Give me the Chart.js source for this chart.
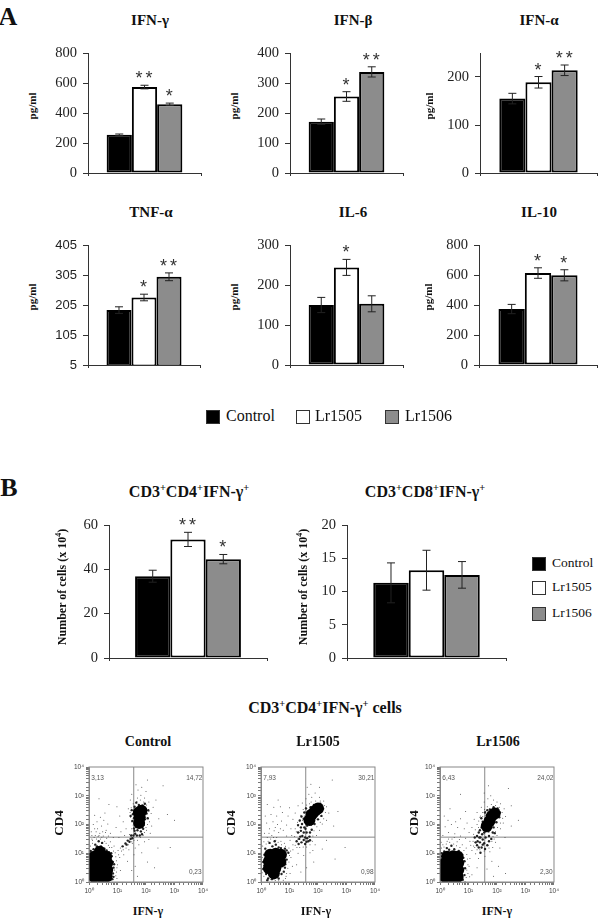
<!DOCTYPE html>
<html>
<head>
<meta charset="utf-8">
<style>
  html, body { margin: 0; background: #fff; overflow: hidden; }
  #page { position: relative; width: 600px; height: 918px; overflow: hidden; }
  canvas { position: absolute; }
  canvas.flow { filter: blur(0.35px); }
  .txt { position: absolute; white-space: nowrap; color: #111; font-family: "Liberation Serif", serif; transform: translate(-50%, -50%); line-height: 1; }
  .txt sup { font-size: 65%; line-height: 0; }
  .swatch { position: absolute; box-sizing: border-box; border: 1px solid #333; }
</style>
</head>
<body>
<div id="page"></div>
<script src="https://cdn.jsdelivr.net/npm/chart.js@4"></script>
<script>
const seriesNames = ['Control', 'Lr1505', 'Lr1506'];
const seriesColors = ['#000000', '#ffffff', '#8c8c8c'];
const categories = [''];

const ifnGammaValues = [255, 573, 458];
const ifnGammaErrors = [5, 12, 8];
const ifnGammaStars = ['', '**', '*'];
const ifnBetaValues = [171, 255, 337];
const ifnBetaErrors = [9, 16, 17];
const ifnBetaStars = ['', '*', '**'];
const ifnAlphaValues = [155, 189, 214];
const ifnAlphaErrors = [11, 12, 11];
const ifnAlphaStars = ['', '*', '**'];
const tnfValues = [188, 230, 299];
const tnfErrors = [11, 11, 13];
const tnfStars = ['', '*', '**'];
const il6Values = [150, 244, 153];
const il6Errors = [19, 20, 20];
const il6Stars = ['', '*', ''];
const il10Values = [373, 613, 598];
const il10Errors = [31, 35, 37];
const il10Stars = ['', '*', '*'];
const cd4Values = [36.9, 53.5, 44.6];
const cd4Errors = [2.7, 3.2, 2.1];
const cd4Stars = ['', '**', '*'];
const cd8Values = [11.3, 13.2, 12.5];
const cd8Errors = [3, 3, 2];
const cd8Stars = ['', '', ''];

// flow plots: values are log10 decades
const flowTickLabels = ['10⁰', '10¹', '10²', '10³', '10⁴'];
const flowQuadrant = [1.57, 1.56];
const controlPercents = ['3,13', '14,72', '0,23'];
const lr1505Percents = ['7,93', '30,21', '0,98'];
const lr1506Percents = ['6,43', '24,02', '2,30'];

const controlCore = [[.18,.18],[.42,.18],[.62,.2],[.18,.42],[.42,.42],[.64,.42],[.18,.66],[.42,.66],[.64,.66],[.18,.88],[.42,.88],[.6,.88],[.38,1.05],[1.75,2.42],[1.84,2.48],[1.78,2.25],[1.76,2.05]];
const controlMid = [[.06,1.08],[.16,1.14],[.28,1.24],[.42,1.24],[.54,1.16],[.7,1.04],[.8,.9],[.84,.7],[.86,.5],[.84,.3],[.82,.1],[.46,1.36],[.34,1.42],[.22,1.3],[.08,.98],[.76,.08],[.86,.18],[.88,.62],[.78,1.0],[.62,1.1],[1.54,2.36],[1.58,2.22],[1.6,2.5],[1.66,2.1],[1.75,2.68],[1.88,2.66],[1.98,2.55],[2.02,2.38],[1.96,2.18],[1.92,1.98],[1.64,1.96],[1.7,1.8],[1.82,1.76],[1.56,1.62],[1.62,1.68],[1.46,1.5],[1.36,1.44],[1.28,1.34],[1.18,1.24],[1.42,1.4],[1.52,1.52],[1.32,1.3],[1.68,1.62],[1.9,1.85],[1.6,2.62],[1.5,2.5],[1.46,2.3],[1.52,2.12],[1.58,1.86],[1.78,1.62],[1.86,1.66],[1.6,1.78],[1.48,1.62],[2.06,2.22],[2.08,2.5],[1.96,2.72],[1.66,2.76]];
const controlDots = [[.1,1.5],[.22,1.62],[.38,1.7],[.5,1.6],[.62,1.52],[.75,1.4],[.88,1.25],[.08,1.75],[.3,1.85],[.44,1.95],[.6,1.8],[.75,1.7],[.15,2],[.28,2.1],[.52,2.15],[.66,2.02],[.4,2.25],[.2,2.32],[.56,2.4],[.85,1.55],[.95,1.9],[1.02,1.1],[1.08,.85],[1,.6],[.96,.35],[1.1,.4],[1.22,.95],[1.35,.72],[1.5,.4],[1.58,.95],[1.62,1.18],[1.75,1.3],[1.85,1.02],[1.95,1.4],[2.05,.7],[2.1,1.48],[2.15,1.7],[2.2,1.95],[2.12,2.1],[2.18,2.38],[2.25,2.6],[2.1,2.78],[1.95,2.92],[1.82,3.02],[1.72,3.2],[1.65,3.38],[1.85,3.3],[2,3.15],[2.35,2.85],[2.45,2.2],[2.75,2.35],[3,2.15],[2.42,1.18],[1.3,1.85],[1.2,2.1],[1.08,2.3],[1.38,2.55],[1.45,2.85],[1.25,1.62],[1.4,1.12],[.98,2.62],[.7,2.7],[.35,2.9],[2.05,3.55],[2.6,3.35],[1.5,3.05],[1.62,.55],[1.7,.2],[2.3,.5],[2.85,1.2],[.12,1.35],[.58,1.72],[1.05,1.55],[1.12,1.75],[1.52,1.35],[2,1.9],
  [.05,1.25],[.12,1.45],[.18,1.55],[.26,1.5],[.32,1.58],[.4,1.5],[.45,1.56],[.55,1.42],[.6,1.35],[.68,1.28],[.72,1.2],[.8,1.2],[.86,1.08],[.92,1.02],[.94,.88],[.96,.74],[.98,.5],[.94,.22],[.98,.12],[.9,.42],[1.04,.95],[1.14,1.08],[1.1,1.18],[1.2,1.12],[1.3,1.18],[1.38,1.3],[1.5,1.4],[1.58,1.45],[1.7,1.45],[1.8,1.55],[1.9,1.62],[1.95,1.72],[2.02,1.8],[2.05,2],[2.08,2.2],[2.1,2.45],[2.02,2.68],[1.92,2.78],[1.8,2.85],[1.68,2.8],[1.55,2.72],[1.48,2.58],[1.44,2.42],[1.46,2.25],[1.5,2.1],[1.55,1.98],[1.5,1.85],[1.6,1.82],[1.42,1.65],[1.7,2.92],[.1,1.62],[.25,1.75],[.35,1.62],[.48,1.75],[.68,1.6],[.2,1.85]];

const lr1505Core = [[.28,.48],[.5,.48],[.28,.72],[.5,.72],[.68,.7],[.32,.95],[.52,.98],[.7,.95],[.45,.3],[1.78,2.35],[1.9,2.48],[2,2.56],[1.7,2.16]];
const lr1505Mid = [[.08,.7],[.08,.45],[.12,.95],[.15,1.16],[.18,.28],[.25,.12],[.62,.12],[.72,.28],[.84,.5],[.9,.78],[.96,1.02],[.84,1.16],[.62,1.2],[.4,1.24],[.3,1.36],[.48,1.42],[.22,.06],[.12,.58],[.16,.82],[.85,.62],[.8,.36],[.9,1.1],[.7,1.18],[.52,1.3],[.38,.1],[1.5,2.2],[1.44,2.02],[1.52,1.9],[1.62,1.96],[1.78,1.82],[1.74,2.6],[1.86,2.68],[2.08,2.72],[2.18,2.55],[2.12,2.3],[2,2.18],[1.88,2.02],[1.6,2.42],[1.34,1.5],[1.42,1.38],[1.55,1.32],[1.66,1.42],[1.7,1.58],[1.55,1.55],[1.45,1.6],[1.32,1.32],[1.25,1.42],[1.6,1.72],[1.4,1.78],[1.5,1.46],[1.62,1.52],[1.38,1.58],[1.5,1.72],[1.72,1.72],[1.55,2.08],[1.62,2.28],[1.95,2.3],[2.1,2.45],[1.84,2.12],[1.4,1.9],[1.36,2.14],[1.42,2.28],[1.52,2.42],[1.3,1.98],[1.58,2.56],[1.3,1.72],[1.56,1.85],[1.72,1.45],[1.6,1.4],[1.76,2.0]];
const lr1505Dots = [[.1,1.4],[.22,1.55],[.38,1.62],[.55,1.55],[.7,1.42],[.82,1.35],[.12,1.7],[.3,1.85],[.46,1.78],[.62,1.72],[.78,1.8],[.9,1.6],[1.02,1.45],[.2,2.05],[.42,2.1],[.58,2],[.72,2.12],[.9,1.98],[1.05,1.85],[.15,2.3],[.35,2.35],[.55,2.3],[.75,2.42],[.95,2.3],[1.12,2.18],[1.2,2.4],[.45,2.6],[.22,2.7],[.68,2.62],[1,2.58],[1.3,2.65],[1.45,2.75],[1.58,2.9],[1.68,3.05],[1.78,2.95],[1.9,3.1],[2.05,2.95],[2.2,2.82],[2.3,2.62],[2.38,2.4],[2.3,2.15],[2.15,2.02],[2.05,1.8],[1.95,1.62],[1.9,1.3],[1.82,1.1],[1.72,1.02],[1.5,.92],[1.3,1],[1.12,1.12],[1.05,.85],[1.1,.55],[1.02,.3],[.88,.2],[.78,.06],[1.25,.6],[1.6,.5],[1.85,.7],[2.15,1.15],[2.3,1.45],[2.55,1.95],[2.7,2.45],[2.05,3.3],[1.75,3.4],[2.5,3.55],[1.62,3.3],[2.95,1.2],[1.08,1.62],[1.2,1.85],[1.28,2.08],[.6,2.85],[1.4,.35],[2.6,.8],
  [.06,1.25],[.18,1.32],[.25,1.42],[.34,1.5],[.44,1.55],[.52,1.45],[.6,1.38],[.72,1.3],[.86,1.24],[.98,1.18],[1.04,1.08],[1,.92],[.98,.7],[.94,.48],[.9,.3],[.86,.12],[.62,.04],[.5,.05],[.04,.32],[.04,.85],[.1,.2],[1.12,1.3],[1.2,1.28],[1.26,1.2],[1.36,1.2],[1.48,1.22],[1.6,1.22],[1.72,1.3],[1.8,1.42],[1.82,1.6],[1.86,1.78],[1.96,1.92],[2.08,2.08],[2.2,2.2],[2.26,2.42],[2.22,2.66],[2.08,2.82],[1.92,2.82],[1.76,2.78],[1.6,2.68],[1.48,2.52],[1.4,2.32],[1.36,2.12],[1.3,1.95],[1.24,1.75],[1.18,1.58],[1.34,1.72],[1.46,2.15],[1.52,2.3],[1.7,2.72],[1.56,2.58],[1.28,1.5],[.28,1.7],[.5,1.9],[.68,1.85]];

const lr1506Core = [[.18,.18],[.42,.18],[.62,.18],[.18,.42],[.42,.42],[.64,.42],[.18,.66],[.42,.66],[.64,.66],[.25,.88],[.46,.9],[.62,.88],[1.82,2.3],[1.92,2.38],[1.74,2.12],[1.64,1.95]];
const lr1506Mid = [[.06,1],[.15,1.06],[.32,1.12],[.5,1.14],[.66,1.08],[.78,.95],[.86,.72],[.88,.48],[.86,.24],[.8,.08],[.4,1.26],[.08,.9],[.24,1.18],[.72,1.02],[.82,.84],[1.64,2.32],[1.62,2.18],[1.5,2.1],[1.46,1.9],[1.36,1.72],[1.42,1.55],[1.32,1.42],[1.3,1.28],[1.46,1.2],[1.55,1.35],[1.6,1.55],[1.72,1.6],[1.55,1.72],[1.88,1.9],[1.98,2.08],[2.08,2.25],[2.1,2.42],[2.02,2.56],[1.88,2.6],[1.75,2.52],[1.85,1.72],[1.72,1.42],[1.22,1.55],[1.58,1.15],[1.42,1.02],[1.4,1.38],[1.5,1.48],[1.48,1.66],[1.6,1.76],[1.38,1.55],[1.7,1.76],[1.58,1.9],[1.54,2.02],[1.4,1.8],[1.72,2.4],[1.95,2.5],[1.3,1.6],[1.25,1.38],[1.36,1.2],[1.5,1.3],[1.66,1.28],[1.8,1.5],[1.92,1.7],[1.45,2.22],[1.58,2.42],[1.66,2.5]];
const lr1506Dots = [[.1,1.3],[.25,1.42],[.42,1.5],[.6,1.4],[.78,1.3],[.92,1.18],[.1,1.62],[.3,1.72],[.52,1.68],[.72,1.6],[.9,1.52],[1.05,1.42],[.18,1.92],[.4,2],[.62,1.9],[.85,1.85],[1.02,1.72],[.28,2.15],[.55,2.1],[.72,2.2],[.15,2.3],[.95,2.05],[1.12,1.9],[1.2,2.18],[1.3,2.42],[1.4,2.25],[1.45,2.6],[1.55,2.78],[1.68,2.9],[1.78,3],[1.88,2.85],[2,2.78],[2.12,2.72],[2.25,2.55],[2.3,2.28],[2.22,2.05],[2.12,1.85],[2,1.62],[1.95,1.38],[1.85,1.2],[1.75,1.05],[1.58,.9],[1.35,.82],[1.12,1.1],[1.05,.82],[1.02,.55],[.98,.3],[1.12,.25],[1.3,.5],[1.65,.45],[1.82,.72],[2.1,1.18],[2.28,1.55],[2.5,1.95],[2.75,2.15],[1.7,3.35],[1.55,3.1],[2.4,3.25],[.72,3.05],[2.3,.3],[1.88,.2],[2.05,.55],[1.18,1.25],[1.25,.98],[.35,2.55],[.9,2.45],[2.5,2.65],
  [.05,1.18],[.14,1.22],[.22,1.32],[.34,1.38],[.48,1.32],[.58,1.26],[.7,1.2],[.84,1.1],[.94,.96],[.96,.8],[.98,.6],[.94,.42],[.92,.16],[.88,.02],[1.04,.18],[.04,1.38],[.3,1.5],[1.08,1.28],[1.16,1.42],[1.18,1.66],[1.24,1.82],[1.3,2],[1.36,2.12],[1.42,2.3],[1.5,2.42],[1.56,2.52],[1.66,2.62],[1.8,2.7],[1.95,2.66],[2.08,2.6],[2.18,2.42],[2.2,2.22],[2.12,2.05],[2.02,1.9],[1.95,1.75],[1.86,1.58],[1.82,1.42],[1.68,1.28],[1.55,1.08],[1.4,1.12],[1.3,1.12],[1.26,1.36],[1.22,1.2],[1.72,1.18],[1.9,1.5],[1.5,2.28],[1.6,2.45],[1.35,1.9],[.5,1.55],[.68,1.48]];

const page = document.getElementById('page');

function label(html, x, y, size, opts = {}) {
  const el = document.createElement('div');
  el.className = 'txt';
  el.innerHTML = html;
  el.style.left = x + 'px';
  el.style.top = y + 'px';
  el.style.fontSize = size + 'px';
  el.style.fontWeight = opts.weight || 'bold';
  if (opts.rotate) el.style.transform = 'translate(-50%, -50%) rotate(-90deg)';
  page.appendChild(el);
}

function swatch(x, y, w, h, color) {
  const el = document.createElement('div');
  el.className = 'swatch';
  el.style.cssText = `left:${x}px;top:${y}px;width:${w}px;height:${h}px;background:${color}`;
  page.appendChild(el);
}

function addCanvas(left, top, width, height) {
  const c = document.createElement('canvas');
  c.width = width;
  c.height = height;
  c.style.left = left + 'px';
  c.style.top = top + 'px';
  page.appendChild(c);
  return c;
}

// error bars and the significance stars, placed through the y scale
const errorBarPlugin = {
  id: 'errorBars',
  afterDatasetsDraw(chart, args, opts) {
    const ctx = chart.ctx;
    const y = chart.scales.y;
    ctx.save();
    chart.data.datasets.forEach((ds, i) => {
      const x = chart.getDatasetMeta(i).data[0].x;
      const top = y.getPixelForValue(ds.data[0] + opts.errors[i]);
      const bottom = y.getPixelForValue(ds.data[0] - opts.errors[i]);
      ctx.strokeStyle = '#222';
      ctx.lineWidth = 1;
      ctx.beginPath();
      ctx.moveTo(x, top);
      ctx.lineTo(x, bottom);
      ctx.moveTo(x - 4, top);
      ctx.lineTo(x + 4, top);
      ctx.moveTo(x - 4, bottom);
      ctx.lineTo(x + 4, bottom);
      ctx.stroke();
      if (opts.stars[i]) {
        ctx.fillStyle = '#333';
        ctx.font = '18px "Liberation Sans"';
        ctx.letterSpacing = '3px';
        ctx.textAlign = 'center';
        ctx.fillText(opts.stars[i], x + 1, top - 1);
      }
    });
    ctx.restore();
  },
};

function barPanel(left, right, top, bottom, values, errors, stars, yMin, yMax, yStep, tickFont) {
  const padLeft = 50, padTop = 16, padBottom = 16, padRight = 8;
  const canvas = addCanvas(left - padLeft, top - padTop, right - left + padLeft + padRight, bottom - top + padTop + padBottom);
  new Chart(canvas, {
    type: 'bar',
    data: {
      labels: categories,
      datasets: seriesNames.map((name, i) => ({
        label: name,
        data: [values[i]],
        backgroundColor: seriesColors[i],
        borderColor: '#000',
        borderWidth: 2,
        borderSkipped: false,
        barPercentage: 1,
        categoryPercentage: 0.67,
      })),
    },
    options: {
      responsive: false,
      animation: false,
      layout: { padding: { top: padTop, right: padRight, left: 0, bottom: 0 } },
      plugins: {
        legend: { display: false },
        tooltip: { enabled: false },
        errorBars: { errors: errors, stars: stars },
      },
      scales: {
        x: {
          afterFit: (s) => { s.height = padBottom; },
          ticks: { display: false },
          grid: { offset: true, drawOnChartArea: false, tickLength: 3, color: '#333' },
          border: { color: '#333' },
        },
        y: {
          min: yMin,
          max: yMax,
          afterFit: (s) => { s.width = padLeft; },
          ticks: {
            stepSize: yStep,
            includeBounds: false,
            color: '#222',
            padding: 6,
            font: tickFont || { family: '"Liberation Serif"', size: 14.5 },
          },
          grid: { drawOnChartArea: false, tickLength: 5, color: '#333' },
          border: { color: '#333' },
        },
      },
    },
    plugins: [errorBarPlugin],
  });
}

const framePlugin = {
  id: 'flowFrame',
  afterDraw(chart, args, opts) {
    const ctx = chart.ctx;
    const a = chart.chartArea;
    ctx.save();
    ctx.strokeStyle = '#888';
    ctx.strokeRect(a.left, a.top, a.width, a.height);
    ctx.fillStyle = '#555';
    ctx.font = '6.5px "Liberation Sans"';
    const py = (v) => chart.scales.y.getPixelForValue(10 ** v);
    const px = (v) => chart.scales.x.getPixelForValue(10 ** v);
    ctx.textAlign = 'left';
    ctx.fillText(opts.percents[0], px(0.08), py(3.55));
    ctx.textAlign = 'right';
    ctx.fillText(opts.percents[1], px(3.98), py(3.55));
    ctx.fillText(opts.percents[2], px(3.95), py(0.28));
    ctx.restore();
  },
};

function toPoints(list) {
  return list.map((p) => ({ x: 10 ** p[0], y: 10 ** p[1] }));
}

function flowPanel(left, top, core, mid, dots, percents) {
  const padLeft = 22, padTop = 8, padBottom = 18, padRight = 6, size = 115;
  const canvas = addCanvas(left - padLeft, top - padTop, size + padLeft + padRight, size + padTop + padBottom);
  canvas.className = 'flow';
  const axis = {
    type: 'logarithmic',
    min: 1,
    max: 10000,
    ticks: {
      autoSkip: false,
      maxRotation: 0,
      color: '#444',
      padding: 2,
      font: { family: '"Liberation Sans"', size: 6.5 },
      callback: (v) => {
        const i = [1, 10, 100, 1000, 10000].indexOf(v);
        return i < 0 ? '' : flowTickLabels[i];
      },
    },
    grid: { drawOnChartArea: false, tickLength: 3, color: '#777' },
    border: { color: '#888' },
  };
  const cloud = (list, radius, color) => ({
    data: toPoints(list),
    pointRadius: radius,
    pointBorderWidth: 0,
    pointBackgroundColor: color,
    showLine: false,
  });
  new Chart(canvas, {
    type: 'scatter',
    data: {
      datasets: [
        cloud(core, 6, '#000'),
        cloud(mid, 1.2, '#222'),
        cloud(dots, 0.5, '#444'),
        { data: toPoints([[flowQuadrant[0], 0], [flowQuadrant[0], 4]]), showLine: true, pointRadius: 0, borderColor: '#888', borderWidth: 1 },
        { data: toPoints([[0, flowQuadrant[1]], [4, flowQuadrant[1]]]), showLine: true, pointRadius: 0, borderColor: '#888', borderWidth: 1 },
      ],
    },
    options: {
      responsive: false,
      animation: false,
      layout: { padding: { top: padTop, right: padRight } },
      plugins: {
        legend: { display: false },
        tooltip: { enabled: false },
        flowFrame: { percents: percents },
      },
      scales: {
        x: { ...axis, afterFit: (s) => { s.height = padBottom; } },
        y: { ...axis, afterFit: (s) => { s.width = padLeft; } },
      },
    },
    plugins: [framePlugin],
  });
}

const sansTicks = { family: '"Liberation Sans"', size: 13 };

barPanel(88, 201, 53, 173, ifnGammaValues, ifnGammaErrors, ifnGammaStars, 0, 800, 200);
barPanel(290, 403, 53, 173, ifnBetaValues, ifnBetaErrors, ifnBetaStars, 0, 400, 100);
barPanel(480, 597, 53, 173, ifnAlphaValues, ifnAlphaErrors, ifnAlphaStars, 0, 250, 100);
barPanel(88, 200, 245, 365, tnfValues, tnfErrors, tnfStars, 5, 405, 100, sansTicks);
barPanel(290, 403, 245, 365, il6Values, il6Errors, il6Stars, 0, 300, 100);
barPanel(479, 597, 245, 365, il10Values, il10Errors, il10Stars, 0, 800, 200);
barPanel(109, 267, 525, 658, cd4Values, cd4Errors, cd4Stars, 0, 60, 20);
barPanel(347, 506, 525, 658, cd8Values, cd8Errors, cd8Stars, 0, 20, 5);

flowPanel(89, 767, controlCore, controlMid, controlDots, controlPercents);
flowPanel(261, 767, lr1505Core, lr1505Mid, lr1505Dots, lr1505Percents);
flowPanel(440, 767, lr1506Core, lr1506Mid, lr1506Dots, lr1506Percents);

label('A', 8, 17, 26);
label('B', 9, 488, 26);

label('IFN-γ', 150, 20, 15);
label('IFN-β', 353, 20, 15);
label('IFN-α', 539, 20, 15);
label('TNF-α', 151, 212, 15);
label('IL-6', 353, 212, 15);
label('IL-10', 539, 212, 15);
label('CD3<sup>+</sup>CD4<sup>+</sup>IFN-γ<sup>+</sup>', 189, 492, 16);
label('CD3<sup>+</sup>CD8<sup>+</sup>IFN-γ<sup>+</sup>', 425, 492, 16);
label('CD3<sup>+</sup>CD4<sup>+</sup>IFN-γ<sup>+</sup> cells', 325, 708, 16);

[[32, 106], [234, 106], [429, 106], [32, 297], [234, 297], [428, 297]].forEach((p) => {
  label('pg/ml', p[0], p[1], 11, { rotate: true });
});
label('Number of cells (x 10<sup>4</sup>)', 62, 587, 12, { rotate: true });
label('Number of cells (x 10<sup>4</sup>)', 303, 587, 12, { rotate: true });

label('Control', 148, 742, 14);
label('Lr1505', 318, 742, 14);
label('Lr1506', 498, 742, 14);
label('CD4', 58, 823, 13, { rotate: true });
label('CD4', 230, 823, 13, { rotate: true });
label('CD4', 413, 823, 13, { rotate: true });
label('IFN-γ', 148, 911, 12);
label('IFN-γ', 316, 911, 12);
label('IFN-γ', 497, 911, 12);

// legends
const legendA = [[206, 226], [296, 315], [385, 405]];
seriesNames.forEach((name, i) => {
  swatch(legendA[i][0], 410, 14, 14, seriesColors[i]);
  const el = document.createElement('div');
  el.className = 'txt';
  el.style.cssText = `left:${legendA[i][1]}px;top:416px;font-size:16px;transform:translateY(-50%)`;
  el.textContent = name;
  page.appendChild(el);
});
const legendBTop = [557, 581, 607];
seriesNames.forEach((name, i) => {
  swatch(532, legendBTop[i], 14, 14, seriesColors[i]);
  const el = document.createElement('div');
  el.className = 'txt';
  el.style.cssText = `left:552px;top:${legendBTop[i] + 6}px;font-size:13.5px;transform:translateY(-50%)`;
  el.textContent = name;
  page.appendChild(el);
});
</script>
</body>
</html>
